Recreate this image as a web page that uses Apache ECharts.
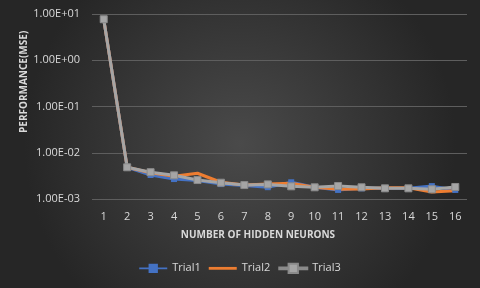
<!DOCTYPE html>
<html><head><meta charset="utf-8">
<script src="https://cdn.jsdelivr.net/npm/echarts@6/dist/echarts.min.js"></script>
<style>html,body{margin:0;padding:0;background:#333;}#c{width:480px;height:288px;}</style>
</head><body><div id="c"></div>
<script>
const categories = ['1','2','3','4','5','6','7','8','9','10','11','12','13','14','15','16'];
const trial1 = [7.7, 0.00485, 0.0033, 0.0027, 0.0025, 0.0021, 0.00195, 0.0018, 0.0023, 0.0018, 0.00157, 0.0017, 0.0017, 0.0017, 0.0019, 0.00157];
const trial2 = [7.7, 0.00485, 0.0037, 0.0031, 0.0036, 0.0023, 0.002, 0.0021, 0.00218, 0.0018, 0.00162, 0.00165, 0.00175, 0.00175, 0.00142, 0.0015];
const trial3 = [7.7, 0.00485, 0.0038, 0.00325, 0.00257, 0.00225, 0.002, 0.00207, 0.00188, 0.00179, 0.00191, 0.00179, 0.0017, 0.0017, 0.00162, 0.00182];
const seriesNames = ['Trial1', 'Trial2', 'Trial3'];
const xTitle = 'NUMBER OF HIDDEN NEURONS';
const yTitle = 'PERFORMANCE(MSE)';

function fmt(v) {
  const e = Math.round(Math.log10(v));
  const m = v / Math.pow(10, e);
  const sign = e < 0 ? '-' : '+';
  const a = Math.abs(e);
  return m.toFixed(2) + 'E' + sign + (a < 10 ? '0' + a : a);
}

const chart = echarts.init(document.getElementById('c'), null, {renderer: 'canvas'});
const txt = '#d9d9d9';
chart.setOption({
  backgroundColor: {
    type: 'radial', x: 0.5, y: 0.5, r: 0.75,
    colorStops: [{offset: 0, color: '#4a4a4a'}, {offset: 1, color: '#262626'}]
  },
  animation: false,
  grid: {left: 92, right: 13, top: 14, bottom: 89},
  graphic: [{
    type: 'text',
    rotation: Math.PI / 2,
    x: 19, y: 133,
    style: {text: yTitle, fill: txt, font: 'bold 10px "Open Sans", sans-serif'}
  }, {
    type: 'text',
    x: 258, y: 235,
    style: {text: xTitle, fill: txt, font: 'bold 10px "Open Sans", sans-serif', align: 'center', verticalAlign: 'middle'}
  }],
  legend: {
    data: [
      {name: 'Trial1', icon: 'path://M0,4 L10,4 L10,0 L20,0 L20,4 L30,4 L30,6 L20,6 L20,10 L10,10 L10,6 L0,6 Z'},
      {name: 'Trial2', icon: 'path://M0,4 L30,4 L30,7 L0,7 Z'},
      {name: 'Trial3', icon: 'path://M0,4 L10,4 L10,0 L20,0 L20,4 L30,4 L30,6 L20,6 L20,10 L10,10 L10,6 L0,6 Z'}
    ],
    bottom: 9, left: 'center', itemWidth: 28, itemHeight: 10, itemGap: 8,
    textStyle: {color: txt, fontSize: 11, fontFamily: '"Open Sans", sans-serif'}
  },
  xAxis: {
    type: 'category', data: categories, boundaryGap: true,
    axisLine: {show: false}, axisTick: {show: false},
    axisLabel: {color: txt, fontSize: 11, margin: 12, fontFamily: '"Open Sans", sans-serif'}
  },
  yAxis: {
    type: 'log', logBase: 10, min: 0.001, max: 10,
    axisLine: {show: false}, axisTick: {show: false},
    splitLine: {lineStyle: {color: '#5e5e5e', width: 1}},
    axisLabel: {color: txt, fontSize: 11, margin: 12, formatter: fmt, fontFamily: '"Open Sans", sans-serif'}
  },
  series: [
    {name: seriesNames[0], type: 'line', data: trial1, symbol: 'rect', symbolSize: 6,
     lineStyle: {color: '#4472c4', width: 3}, itemStyle: {color: '#4472c4'}},
    {name: seriesNames[1], type: 'line', data: trial2, symbol: 'none', symbolSize: 6,
     lineStyle: {color: '#ed7d31', width: 3}, itemStyle: {color: '#ed7d31'}},
    {name: seriesNames[2], type: 'line', data: trial3, symbol: 'rect', symbolSize: 7,
     lineStyle: {color: '#a5a5a5', width: 3}, itemStyle: {color: '#a5a5a5', borderColor: '#8a8a8a', borderWidth: 1}}
  ]
});
</script></body></html>
